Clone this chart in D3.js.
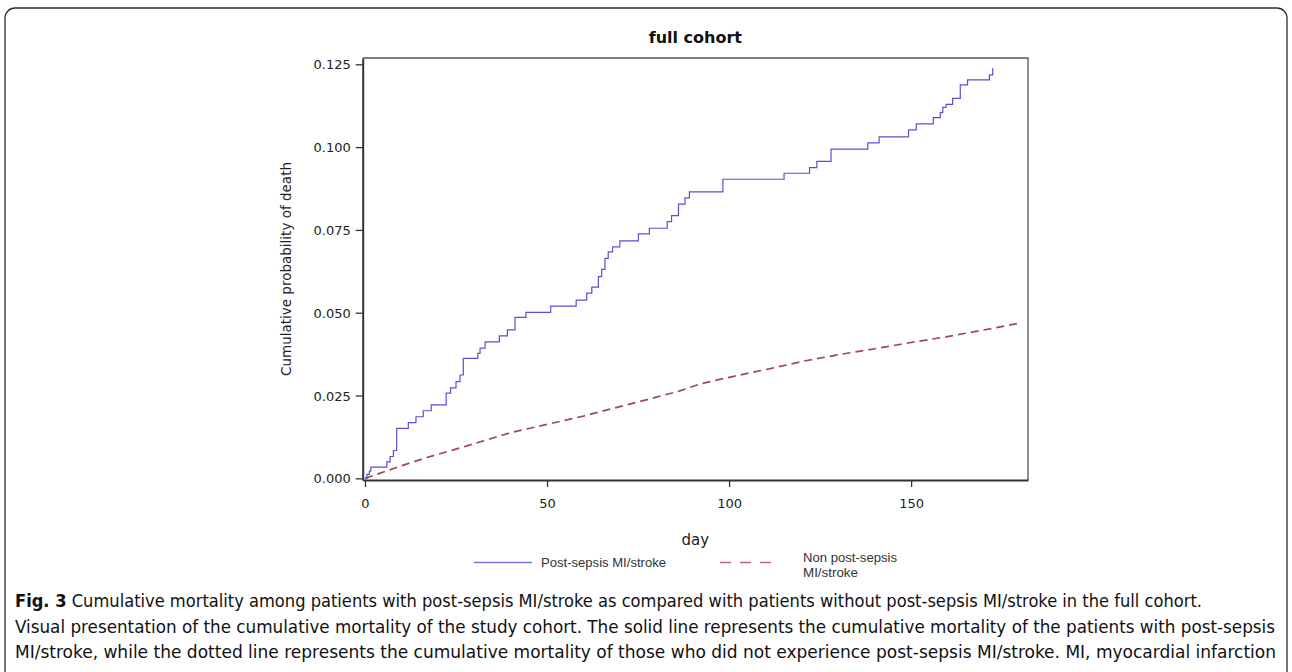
<!DOCTYPE html>
<html>
<head>
<meta charset="utf-8">
<script src="https://cdn.jsdelivr.net/npm/d3@7"></script>
<style>
  html, body { margin: 0; padding: 0; background: #fff; }
  svg { display: block; }
</style>
</head>
<body>
<svg id="chart" width="1292" height="672"></svg>
<script>
// ---- data ----
const titleText = "full cohort";
const yLabel = "Cumulative probability of death";
const xLabel = "day";
const xTicks = [0, 50, 100, 150];
const yTicks = [0, 0.025, 0.05, 0.075, 0.1, 0.125];
const seriesNames = ["Post-sepsis MI/stroke", "Non post-sepsis", "MI/stroke"];

// Post-sepsis MI/stroke: Kaplan-Meier style step curve (day where step occurs, value after step)
const postDays = [0, 0.5, 1.2, 1.6, 6.0, 6.9, 7.8, 8.7, 11.9, 14.0, 16.0, 18.2, 22.3, 23.5, 25.0, 26.1, 27.0,
  31.0, 31.6, 33.0, 36.9, 39.1, 41.2, 44.2, 51.0, 58.0, 60.9, 62.3, 64.1, 65.0, 65.9, 66.8, 68.0, 70.0,
  75.1, 78.1, 83.0, 84.2, 86.1, 87.9, 89.1, 98.3, 115.1, 122.1, 124.1, 128.0, 138.1, 141.2, 149.3, 151.4,
  156.1, 158.0, 158.7, 159.6, 161.4, 163.5, 165.5, 171.5, 172.4, 172.6];
const postVals = [0, 0.0012, 0.0022, 0.0034, 0.0050, 0.0066, 0.0084, 0.0151, 0.0168, 0.0186, 0.0204, 0.0222,
  0.0257, 0.0273, 0.0292, 0.0312, 0.0362, 0.0377, 0.0393, 0.0412, 0.0430, 0.0448, 0.0486, 0.0501, 0.0520,
  0.0538, 0.0559, 0.0577, 0.0609, 0.0631, 0.0664, 0.0684, 0.0699, 0.0717, 0.0738, 0.0755, 0.0775, 0.0793,
  0.0828, 0.0847, 0.0865, 0.0903, 0.0921, 0.0938, 0.0957, 0.0994, 0.1013, 0.1031, 0.1052, 0.1070, 0.1089,
  0.1104, 0.1120, 0.1129, 0.1147, 0.1188, 0.1203, 0.1218, 0.1236, 0.1236];

// Non post-sepsis MI/stroke
const nonDays = [0, 4, 10, 17, 28, 40, 50, 60, 68, 80, 86.5, 92, 100, 111.6, 121, 131, 141, 151, 160, 166, 172, 179.4];
const nonVals = [0, 0.0015, 0.0038, 0.0063, 0.0098, 0.0138, 0.0163, 0.0188, 0.0211, 0.0245, 0.0264, 0.0285,
  0.0305, 0.0332, 0.0355, 0.0375, 0.0393, 0.0412, 0.0428, 0.0440, 0.0452, 0.0468];

const captionBold = "Fig. 3";
const captionLines = [
  " Cumulative mortality among patients with post-sepsis MI/stroke as compared with patients without post-sepsis MI/stroke in the full cohort.",
  "Visual presentation of the cumulative mortality of the study cohort. The solid line represents the cumulative mortality of the patients with post-sepsis",
  "MI/stroke, while the dotted line represents the cumulative mortality of those who did not experience post-sepsis MI/stroke. MI, myocardial infarction"
];

// ---- drawing ----
const svg = d3.select("#chart");
const plot = { left: 362.7, right: 1028, top: 58, bottom: 480 };

const x = d3.scaleLinear().domain([-0.63, 182.1]).range([plot.left, plot.right]);
const y = d3.scaleLinear().domain([-0.0005, 0.1269]).range([plot.bottom, plot.top]);

// outer rounded border
svg.append("rect")
  .attr("x", 5).attr("y", 8).attr("width", 1282).attr("height", 700)
  .attr("rx", 10).attr("ry", 10)
  .attr("fill", "none").attr("stroke", "#2b2b2b").attr("stroke-width", 1.3);

// title
svg.append("text")
  .attr("x", (plot.left + plot.right) / 2).attr("y", 43)
  .attr("text-anchor", "middle")
  .attr("font-family", "DejaVu Sans, sans-serif")
  .attr("font-size", 16).attr("font-weight", "bold").attr("fill", "#111")
  .text(titleText);

// frame (top & right)
svg.append("path")
  .attr("d", `M${plot.left},${plot.top}H${plot.right}V${plot.bottom}`)
  .attr("fill", "none").attr("stroke", "#555").attr("stroke-width", 1.3);

// axes
const yAxis = d3.axisLeft(y).tickValues(yTicks).tickFormat(d3.format(".3f")).tickSize(7).tickSizeOuter(0);
const gy = svg.append("g").attr("transform", `translate(${plot.left},0)`).call(yAxis);
const xAxis = d3.axisBottom(x).tickValues(xTicks).tickFormat(d3.format("d")).tickSize(7).tickSizeOuter(0);
const gx = svg.append("g").attr("transform", `translate(0,${plot.bottom})`).call(xAxis);

[gx, gy].forEach(g => {
  g.select(".domain").attr("stroke", "#333").attr("stroke-width", 2);
  g.selectAll(".tick line").attr("stroke", "#333").attr("stroke-width", 1.3);
  g.selectAll(".tick text").attr("font-family", "DejaVu Sans, sans-serif").attr("font-size", 13).attr("fill", "#222");
});
gy.selectAll(".tick text").attr("x", -12).attr("dy", "0.35em");
gx.selectAll(".tick text").attr("y", 19);

// axis labels
svg.append("text")
  .attr("transform", `translate(291,${(plot.top + plot.bottom) / 2}) rotate(-90)`)
  .attr("text-anchor", "middle")
  .attr("font-family", "DejaVu Sans, sans-serif")
  .attr("font-size", 13.5).attr("fill", "#222")
  .text(yLabel);

svg.append("text")
  .attr("x", (plot.left + plot.right) / 2).attr("y", 545)
  .attr("text-anchor", "middle")
  .attr("font-family", "DejaVu Sans, sans-serif")
  .attr("font-size", 15).attr("fill", "#222")
  .text(xLabel);

// series
const postData = postDays.map((d, i) => [d, postVals[i]]);
const nonData = nonDays.map((d, i) => [d, nonVals[i]]);

const stepLine = d3.line().x(d => x(d[0])).y(d => y(d[1])).curve(d3.curveStepAfter);
const smoothLine = d3.line().x(d => x(d[0])).y(d => y(d[1])).curve(d3.curveLinear);

svg.append("path").datum(nonData)
  .attr("d", smoothLine)
  .attr("fill", "none").attr("stroke", "#a24a52").attr("stroke-width", 1.7)
  .attr("stroke-dasharray", "8,5");

svg.append("path").datum(postData)
  .attr("d", stepLine)
  .attr("fill", "none").attr("stroke", "#5a50d4").attr("stroke-width", 1.2);

// legend
const legY = 562.5;
svg.append("line").attr("x1", 474).attr("x2", 532).attr("y1", legY).attr("y2", legY)
  .attr("stroke", "#7a70e0").attr("stroke-width", 1.3);
svg.append("text").attr("x", 541).attr("y", legY + 4.5)
  .attr("font-family", "Liberation Sans, Arial, sans-serif").attr("font-size", 13).attr("fill", "#333")
  .attr("textLength", 125).attr("lengthAdjust", "spacingAndGlyphs")
  .text(seriesNames[0]);

svg.append("line").attr("x1", 720).attr("x2", 776).attr("y1", legY).attr("y2", legY)
  .attr("stroke", "#b8686c").attr("stroke-width", 1.3).attr("stroke-dasharray", "11,9");
svg.append("text").attr("x", 803).attr("y", 561.5)
  .attr("font-family", "Liberation Sans, Arial, sans-serif").attr("font-size", 13).attr("fill", "#333")
  .attr("textLength", 94).attr("lengthAdjust", "spacingAndGlyphs")
  .text(seriesNames[1]);
svg.append("text").attr("x", 803).attr("y", 576.5)
  .attr("font-family", "Liberation Sans, Arial, sans-serif").attr("font-size", 13).attr("fill", "#333")
  .attr("textLength", 55).attr("lengthAdjust", "spacingAndGlyphs")
  .text(seriesNames[2]);

// caption
const capBaselines = [607, 633, 658];
const capWidths = [1187, 1260, 1261];
captionLines.forEach((line, i) => {
  const t = svg.append("text")
    .attr("x", 15).attr("y", capBaselines[i])
    .attr("font-family", "DejaVu Sans Condensed, DejaVu Sans, sans-serif")
    .attr("font-stretch", "condensed")
    .attr("font-size", 17).attr("fill", "#111")
    .attr("textLength", capWidths[i]).attr("lengthAdjust", "spacingAndGlyphs");
  if (i === 0) {
    t.append("tspan").attr("font-weight", "bold").text(captionBold);
  }
  t.append("tspan").text(line);
});
</script>
</body>
</html>
